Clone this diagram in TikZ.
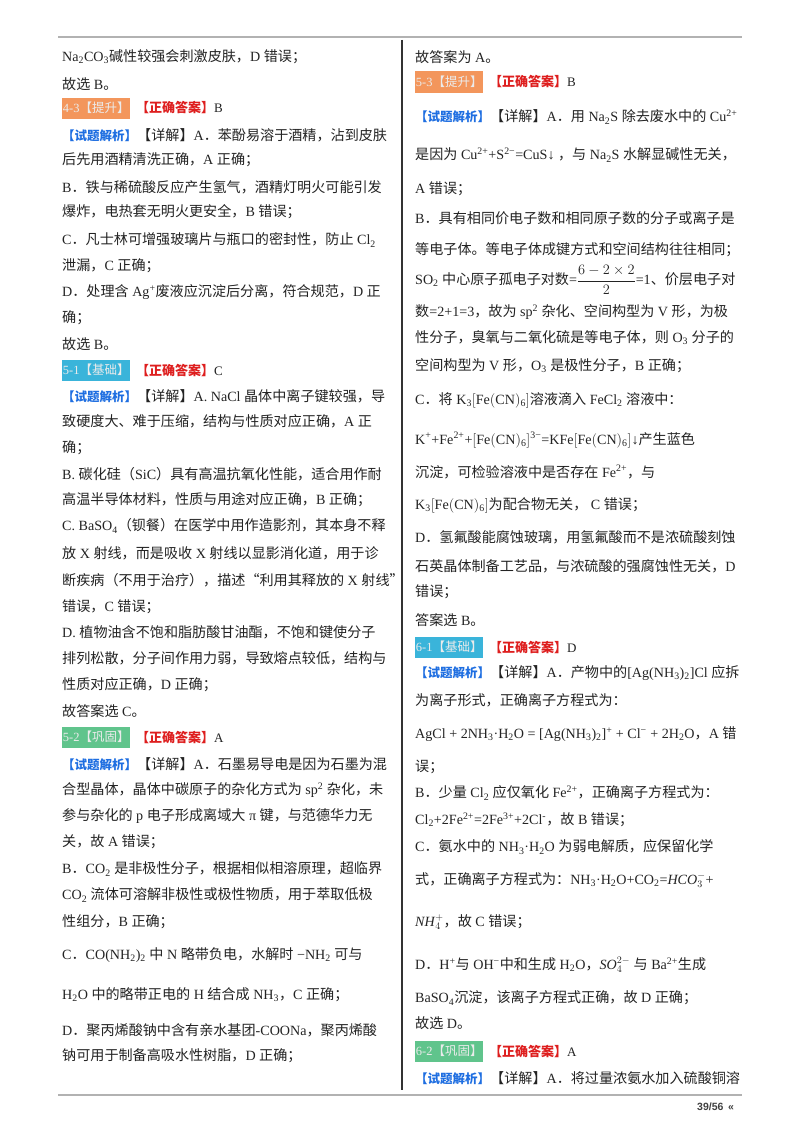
\documentclass[tikz,border=0pt]{standalone}
\usepackage{fontspec}
\setmainfont{Liberation Serif}
\newfontfamily\cjk{Noto Sans CJK SC}
\newfontfamily\sans{Liberation Sans}
\newXeTeXintercharclass\CJKc
\count255="4E00
\loop \XeTeXcharclass\count255=\CJKc \ifnum\count255<"9FFF \advance\count255 1 \repeat
\count255="3000
\loop \XeTeXcharclass\count255=\CJKc \ifnum\count255<"303F \advance\count255 1 \repeat
\count255="FF00
\loop \XeTeXcharclass\count255=\CJKc \ifnum\count255<"FFEF \advance\count255 1 \repeat
\XeTeXcharclass"201C=\CJKc \XeTeXcharclass"201D=\CJKc
\XeTeXinterchartoks 0 \CJKc = {\begingroup\cjk}
\XeTeXinterchartoks 4095 \CJKc = {\begingroup\cjk}
\XeTeXinterchartoks \CJKc 0 = {\endgroup}
\XeTeXinterchartoks \CJKc 4095 = {\endgroup}
\newcommand\sB[1]{\textsubscript{#1}}
\newcommand\sP[1]{\textsuperscript{#1}}
\definecolor{tagO}{RGB}{243,150,92}
\definecolor{tagC}{RGB}{58,180,218}
\definecolor{tagG}{RGB}{96,196,140}
\definecolor{ansR}{RGB}{222,30,30}
\definecolor{anaB}{RGB}{30,110,225}
\definecolor{txt}{RGB}{35,35,35}
\tikzset{
 ln/.style={anchor=west,inner sep=0pt,text=txt,font=\fontsize{14.1}{17}\selectfont},
 tag/.style={anchor=west,inner sep=0pt,minimum width=68pt,minimum height=21pt,text=white!92!black,font=\fontsize{12.5}{14}\selectfont},
 ans/.style={anchor=west,inner sep=0pt,text=ansR,font=\fontsize{13}{15}\selectfont\bfseries},
}
\begin{document}
\XeTeXinterchartokenstate=1
\begin{tikzpicture}[x=1pt,y=-1pt]
\useasboundingbox[fill=white] (0,0) rectangle (800,1132);
\draw[gray!60,line width=1.2pt] (58,37) -- (742,37);
\draw[gray!60,line width=1.2pt] (58,1095) -- (742,1095);
\draw[black!80,line width=1.2pt] (402,40) -- (402,1090);
% left column
\node[ln] (l1) at (62,57) {Na\sB{2}CO\sB{3}碱性较强会刺激皮肤，D 错误；};
\node[ln] (l2) at (62,84) {故选 B。};
\node[tag,fill=tagO] (t1) at (62,108) {4-3【提升】};
\node[ans] (a1) at (136,108) {【正确答案】\textcolor{txt}{\mdseries B}};
\node[ln] (l4) at (62,135) {\textcolor{anaB}{\bfseries\fontsize{12.5}{15}\selectfont【试题解析】}【详解】A．苯酚易溶于酒精，沾到皮肤};
\node[ln] at (62,160) {后先用酒精清洗正确，A 正确；};
\node[ln] at (62,187) {B．铁与稀硫酸反应产生氢气，酒精灯明火可能引发};
\node[ln] at (62,212) {爆炸，电热套无明火更安全，B 错误；};
\node[ln] at (62,240) {C．凡士林可增强玻璃片与瓶口的密封性，防止 Cl\sB{2}};
\node[ln] at (62,266) {泄漏，C 正确；};
\node[ln] at (62,292) {D．处理含 Ag\sP{+}废液应沉淀后分离，符合规范，D 正};
\node[ln] at (62,318) {确；};
\node[ln] at (62,344) {故选 B。};
\node[tag,fill=tagC] (t2) at (62,370) {5-1【基础】};
\node[ans] (a2) at (136,370) {【正确答案】\textcolor{txt}{\mdseries C}};
\node[ln] at (62,396) {\textcolor{anaB}{\bfseries\fontsize{12.5}{15}\selectfont【试题解析】}【详解】A. NaCl 晶体中离子键较强，导};
\node[ln] at (62,421) {致硬度大、难于压缩，结构与性质对应正确，A 正};
\node[ln] at (62,448) {确；};
\node[ln] at (62,474) {B. 碳化硅（SiC）具有高温抗氧化性能，适合用作耐};
\node[ln] at (62,500) {高温半导体材料，性质与用途对应正确，B 正确；};
\node[ln] at (62,526) {C. BaSO\sB{4}（钡餐）在医学中用作造影剂，其本身不释};
\node[ln] at (62,553) {放 X 射线，而是吸收 X 射线以显影消化道，用于诊};
\node[ln] at (62,580) {断疾病（不用于治疗），描述“利用其释放的 X 射线”};
\node[ln] at (62,607) {错误，C 错误；};
\node[ln] at (62,632) {D. 植物油含不饱和脂肪酸甘油酯，不饱和键使分子};
\node[ln] at (62,658) {排列松散，分子间作用力弱，导致熔点较低，结构与};
\node[ln] at (62,685) {性质对应正确，D 正确；};
\node[ln] at (62,711) {故答案选 C。};
\node[tag,fill=tagG] (t3) at (62,737) {5-2【巩固】};
\node[ans] (a3) at (136,737) {【正确答案】\textcolor{txt}{\mdseries A}};
\node[ln] at (62,764) {\textcolor{anaB}{\bfseries\fontsize{12.5}{15}\selectfont【试题解析】}【详解】A．石墨易导电是因为石墨为混};
\node[ln] at (62,790) {合型晶体，晶体中碳原子的杂化方式为 sp\sP{2} 杂化，未};
\node[ln] at (62,816) {参与杂化的 p 电子形成离域大 π 键，与范德华力无};
\node[ln] at (62,842) {关，故 A 错误；};
\node[ln] at (62,869) {B．CO\sB{2} 是非极性分子，根据相似相溶原理，超临界};
\node[ln] at (62,895) {CO\sB{2} 流体可溶解非极性或极性物质，用于萃取低极};
\node[ln] at (62,922) {性组分，B 正确；};
\node[ln] at (62,955) {C．CO(NH\sB{2})\sB{2} 中 N 略带负电，水解时 −NH\sB{2} 可与};
\node[ln] at (62,995) {H\sB{2}O 中的略带正电的 H 结合成 NH\sB{3}，C 正确；};
\node[ln] at (62,1030) {D．聚丙烯酸钠中含有亲水基团-COONa，聚丙烯酸};
\node[ln] at (62,1056) {钠可用于制备高吸水性树脂，D 正确；};
% right column
\node[ln] at (415,57) {故答案为 A。};
\node[tag,fill=tagO] (t4) at (415,82) {5-3【提升】};
\node[ans] (a4) at (489,82) {【正确答案】\textcolor{txt}{\mdseries B}};
\node[ln] at (415,117) {\textcolor{anaB}{\bfseries\fontsize{12.5}{15}\selectfont【试题解析】}【详解】A．用 Na\sB{2}S 除去废水中的 Cu\sP{2+}};
\node[ln] at (415,155) {是因为 Cu\sP{2+}+S\sP{2−}=CuS↓ ，与 Na\sB{2}S 水解显碱性无关，};
\node[ln] at (415,189) {A 错误；};
\node[ln] at (415,218) {B．具有相同价电子数和相同原子数的分子或离子是};
\node[ln] at (415,250) {等电子体。等电子体成键方式和空间结构往往相同；};
\node[ln] at (415,280) {SO\sB{2} 中心原子孤电子对数=$\displaystyle\frac{6-2\times 2}{2}$=1、价层电子对};
\node[ln] at (415,312) {数=2+1=3，故为 sp\sP{2} 杂化、空间构型为 V 形，为极};
\node[ln] at (415,338) {性分子，臭氧与二氧化硫是等电子体，则 O\sB{3} 分子的};
\node[ln] at (415,366) {空间构型为 V 形，O\sB{3} 是极性分子，B 正确；};
\node[ln] at (415,400) {C．将 K\sB{3}$\big[$Fe$\big($CN$\big)$\sB{6}$\big]$溶液滴入 FeCl\sB{2} 溶液中：};
\node[ln] at (415,440) {K\sP{+}+Fe\sP{2+}+$\big[$Fe$\big($CN$\big)$\sB{6}$\big]$\sP{3−}=KFe$\big[$Fe$\big($CN$\big)$\sB{6}$\big]$↓产生蓝色};
\node[ln] at (415,472) {沉淀，可检验溶液中是否存在 Fe\sP{2+}，与};
\node[ln] at (415,505) {K\sB{3}$\big[$Fe$\big($CN$\big)$\sB{6}$\big]$为配合物无关， C 错误；};
\node[ln] at (415,537) {D．氢氟酸能腐蚀玻璃，用氢氟酸而不是浓硫酸刻蚀};
\node[ln] at (415,566) {石英晶体制备工艺品，与浓硫酸的强腐蚀性无关，D};
\node[ln] at (415,592) {错误；};
\node[ln] at (415,620) {答案选 B。};
\node[tag,fill=tagC] (t5) at (415,647) {6-1【基础】};
\node[ans] (a5) at (489,647) {【正确答案】\textcolor{txt}{\mdseries D}};
\node[ln] at (415,673) {\textcolor{anaB}{\bfseries\fontsize{12.5}{15}\selectfont【试题解析】}【详解】A．产物中的[Ag(NH\sB{3})\sB{2}]Cl 应拆};
\node[ln] at (415,700) {为离子形式，正确离子方程式为：};
\node[ln] at (415,734) {AgCl + 2NH\sB{3}·H\sB{2}O = [Ag(NH\sB{3})\sB{2}]\sP{+} + Cl\sP{−} + 2H\sB{2}O，A 错};
\node[ln] at (415,767) {误；};
\node[ln] at (415,793) {B．少量 Cl\sB{2} 应仅氧化 Fe\sP{2+}，正确离子方程式为：};
\node[ln] at (415,820) {Cl\sB{2}+2Fe\sP{2+}=2Fe\sP{3+}+2Cl\sP{-}，故 B 错误；};
\node[ln] at (415,847) {C．氨水中的 NH\sB{3}·H\sB{2}O 为弱电解质，应保留化学};
\node[ln] at (415,880) {式，正确离子方程式为：NH\sB{3}·H\sB{2}O+CO\sB{2}=\textit{HCO}$_3^-$+};
\node[ln] at (415,922) {\textit{NH}$_4^+$，故 C 错误；};
\node[ln] at (415,965) {D．H\sP{+}与 OH\sP{−}中和生成 H\sB{2}O，\textit{SO}$_4^{2-}$ 与 Ba\sP{2+}生成};
\node[ln] at (415,998) {BaSO\sB{4}沉淀，该离子方程式正确，故 D 正确；};
\node[ln] at (415,1023) {故选 D。};
\node[tag,fill=tagG] (t6) at (415,1051) {6-2【巩固】};
\node[ans] (a6) at (489,1051) {【正确答案】\textcolor{txt}{\mdseries A}};
\node[ln] at (415,1078) {\textcolor{anaB}{\bfseries\fontsize{12.5}{15}\selectfont【试题解析】}【详解】A．将过量浓氨水加入硫酸铜溶};
\node[anchor=west,inner sep=0pt,font=\sans\bfseries\fontsize{10.5}{12}\selectfont,text=black!75] (ft) at (697,1107) {39/56 \,«};
\end{tikzpicture}
\end{document}
